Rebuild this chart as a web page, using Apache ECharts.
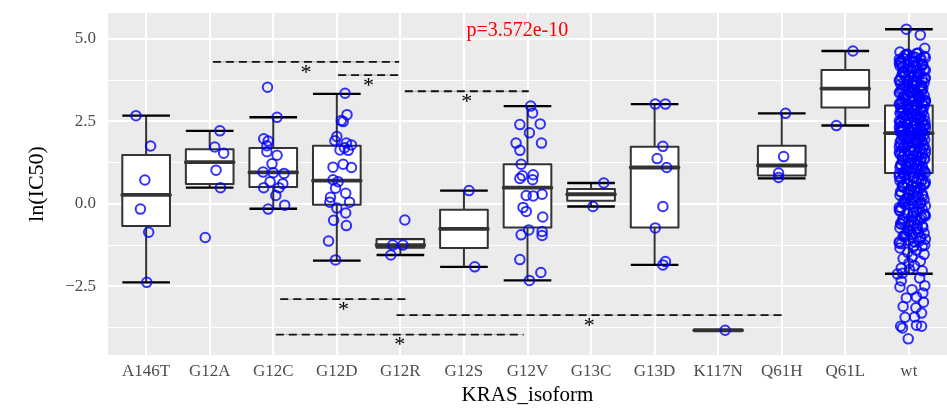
<!DOCTYPE html>
<html>
<head>
<meta charset="utf-8">
<script src="https://cdn.jsdelivr.net/npm/echarts@6/dist/echarts.min.js"></script>
<style>
  html, body { margin: 0; padding: 0; background: #fff; }
  #chart { width: 947px; height: 411px; }
</style>
</head>
<body>
<div id="chart"></div>
<script>
const categories = ['A146T', 'G12A', 'G12C', 'G12D', 'G12R', 'G12S', 'G12V', 'G13C', 'G13D', 'K117N', 'Q61H', 'Q61L', 'wt']

// whisker low, Q1, median, Q3, whisker high
const boxStats = [
  [-2.38, -0.67, 0.27, 1.48, 2.67],
  [0.49, 0.60, 1.26, 1.65, 2.21],
  [-0.15, 0.51, 0.95, 1.69, 2.62],
  [-1.72, -0.03, 0.70, 1.76, 3.33],
  [-1.55, -1.33, -1.25, -1.07, -1.07],
  [-1.91, -1.34, -0.76, -0.18, 0.40],
  [-2.32, -0.72, 0.49, 1.20, 2.96],
  [-0.08, 0.09, 0.29, 0.45, 0.63],
  [-1.85, -0.72, 1.10, 1.73, 3.02],
  [-3.83, -3.83, -3.83, -3.83, -3.83],
  [0.77, 0.86, 1.16, 1.76, 2.74],
  [2.37, 2.92, 3.49, 4.05, 4.63],
  [-2.12, 0.93, 2.14, 2.98, 5.29]
]

const majorY = [-2.5, 0, 2.5, 5]
const minorY = [-3.75, -1.25, 1.25, 3.75]

// points per isoform: [jitter, ln(IC50)]
const a146tPts = [[-0.16, 2.67], [0.07, 1.75], [-0.02, 0.72], [-0.09, -0.16], [0.04, -0.86], [0.01, -2.38]]
const g12aPts = [[0.16, 2.21], [0.08, 1.72], [0.22, 1.53], [0.10, 1.02], [0.17, 0.49], [-0.07, -1.02]]
const g12cPts = [[-0.09, 3.53], [0.06, 2.62], [-0.15, 1.97], [-0.08, 1.90], [-0.10, 1.76], [-0.10, 1.58],
  [0.06, 1.47], [-0.02, 1.21], [-0.16, 0.96], [0.0, 0.94], [0.17, 0.92], [-0.05, 0.67], [0.15, 0.61],
  [-0.15, 0.49], [0.09, 0.49], [0.04, 0.25], [0.18, -0.04], [-0.08, -0.16]]
const g12dPts = [[0.13, 3.35], [0.16, 2.70], [0.07, 2.52], [0.10, 2.49], [0.0, 2.04], [-0.03, 1.91],
  [0.15, 1.84], [0.23, 1.78], [0.05, 1.63], [0.10, 1.20], [-0.06, 1.11], [0.23, 1.10], [-0.06, 0.73],
  [0.02, 0.67], [-0.02, 0.47], [0.14, 0.32], [-0.11, 0.05], [0.20, 0.05], [0.0, -0.13], [0.14, -0.28],
  [-0.05, -0.50], [0.15, -0.66], [-0.13, -1.13], [-0.02, -1.70], [0.18, 1.62], [0.12, 1.70], [-0.1, 0.2]]
const g12rPts = [[0.07, -0.49], [-0.12, -1.25], [0.04, -1.25], [-0.15, -1.55]]
const g12sPts = [[0.08, 0.40], [0.17, -1.91]]
const g12vPts = [[0.05, 2.96], [0.08, 2.75], [0.2, 2.42], [-0.12, 2.40], [0.03, 2.15], [-0.18, 1.84],
  [0.22, 1.84], [-0.12, 1.62], [-0.10, 1.20], [-0.08, 0.85], [-0.12, 0.77], [0.09, 0.88], [0.08, 0.73],
  [-0.02, 0.25], [0.09, 0.24], [0.23, 0.29], [-0.07, -0.11], [-0.02, -0.23], [0.24, -0.40], [0.02, -0.79],
  [-0.10, -0.94], [0.23, -0.84], [0.23, -0.96], [-0.12, -1.69], [0.21, -2.08], [0.03, -2.32]]
const g13cPts = [[0.20, 0.63], [0.03, -0.08]]
const g13dPts = [[0.01, 3.02], [0.17, 3.02], [0.13, 1.74], [0.04, 1.37], [0.19, 1.10], [0.13, -0.08],
  [0.01, -0.73], [0.17, -1.75], [0.13, -1.85]]
const k117nPts = [[0.11, -3.83]]
const q61hPts = [[0.06, 2.74], [0.03, 1.43], [-0.05, 0.93], [-0.05, 0.80]]
const q61lPts = [[0.12, 4.63], [-0.14, 2.37]]

// wt: dense cloud values (read as a band), jitter cycles, plus sparse tail
const wtDense = [
  4.6, 4.55, 4.53, 4.47, 4.46, 4.41, 4.36, 4.35, 4.29, 4.26, 4.2, 4.18, 4.14, 4.09, 4.07, 4.01,
  3.98, 3.95, 3.89, 3.86, 3.84, 3.78, 3.75, 3.71, 3.68, 3.66, 3.61, 3.57, 3.55, 3.52, 3.47, 3.44,
  3.42, 3.38, 3.35, 3.31, 3.29, 3.24, 3.22, 3.19, 3.15, 3.13, 3.09, 3.06, 3.04, 3.0,
  2.97, 2.96, 2.92, 2.9, 2.86, 2.85, 2.82, 2.78, 2.77, 2.74, 2.71, 2.69, 2.66, 2.65, 2.61, 2.58,
  2.57, 2.53, 2.5, 2.48, 2.45, 2.44, 2.4, 2.37, 2.35, 2.33, 2.3, 2.26, 2.25, 2.22, 2.19, 2.18,
  2.14, 2.12, 2.09, 2.06, 2.04, 2.01, 1.97, 1.95, 1.93, 1.89, 1.86, 1.84, 1.8, 1.76, 1.73, 1.71,
  1.67, 1.62, 1.6, 1.58, 1.53, 1.5, 1.47, 1.43, 1.38, 1.36, 1.33, 1.29, 1.24, 1.21, 1.19, 1.14,
  1.1, 1.07, 1.04, 0.99, 0.96, 0.93,
  0.89, 0.86, 0.81, 0.76, 0.74, 0.7, 0.65, 0.62, 0.59, 0.54, 0.5, 0.47, 0.41, 0.38, 0.35, 0.3,
  0.26, 0.23, 0.17, 0.13, 0.1, 0.05, 0.01, -0.03, -0.09, -0.12, -0.16, -0.22, -0.25, -0.3, -0.35,
  -0.39, -0.44, -0.48, -0.53, -0.58, -0.62, -0.67, -0.73, -0.77, -0.82, -0.89, -0.93, -0.98,
  -1.04, -1.11, -1.16, -1.21, -1.28, -1.34,
  -1.41, -1.47, -1.53, -1.6, -1.66, -1.74, -1.8, -1.88, -1.95, -2.03
]
const wtJitter = [-0.14, 0.12, -0.02, 0.24, 0.05, -0.09, 0.18, 0.0, 0.09, -0.12, 0.21]
const wtDense2 = [
  4.57, 4.5, 4.43, 4.38, 4.31, 4.24, 4.16, 4.11, 4.03, 3.93, 3.88, 3.81, 3.73, 3.64, 3.59, 3.49,
  3.4, 3.33, 3.26, 3.17, 3.11, 3.02, 2.94, 2.88, 2.8, 2.72, 2.63, 2.55, 2.46, 2.39, 2.31, 2.24,
  2.16, 2.07, 1.99, 1.91, 1.82, 1.75, 1.65, 1.56, 1.45, 1.4, 1.31, 1.26, 1.16, 1.08, 1.01, 0.94,
  0.83, 0.79, 0.68, 0.56, 0.44, 0.33, 0.2, 0.07, -0.06, -0.19, -0.28, -0.41, -0.55, -0.64,
  -0.75, -0.86, -0.95, -1.07, -1.19, -1.31
]
const wtJitter2 = [0.15, -0.06, 0.26, -0.15, 0.07, 0.2, -0.1, 0.03, 0.13]
const wtDense3 = [
  4.44, 4.33, 4.21, 4.12, 3.99, 3.91, 3.79, 3.69, 3.62, 3.5, 3.37, 3.28, 3.18, 3.07, 2.99, 2.91,
  2.83, 2.75, 2.67, 2.6, 2.52, 2.42, 2.34, 2.28, 2.2, 2.1, 2.02, 1.94, 1.87, 1.78, 1.69, 1.61,
  1.52, 1.44, 1.35, 1.27, 1.17, 1.05, 0.97, 0.87, 0.72, 0.6, 0.49, 0.37, 0.24, 0.12, -0.01,
  -0.14, -0.32, -0.46, -0.6, -0.71, -0.84, -1.0, -1.13, -1.25
]
const wtJitter3 = [0.1, -0.13, 0.22, 0.02, -0.07, 0.16, 0.25]
const wtDense4 = [
  4.52, 4.4, 4.27, 4.17, 4.05, 3.96, 3.83, 3.72, 3.58, 3.46, 3.36, 3.25, 3.14, 3.05, 2.93, 2.84,
  2.7, 2.62, 2.51, 2.41, 2.29, 2.21, 2.13, 2.03, 1.96, 1.85, 1.72, 1.63, 1.54, 1.42, 1.3, 1.22,
  1.12, 1.02, 0.91, 0.8, 0.66, 0.53, 0.4, 0.28, 0.15, 0.03, -0.11, -0.24, -0.37, -0.5, -0.66,
  -0.8, -0.91, -1.02, -1.15, -1.27
]
const wtJitter4 = [-0.04, 0.19, -0.15, 0.08, 0.26, -0.1, 0.13, -0.01]
const wtSparse = [[-0.04, 5.29], [0.18, 5.11], [0.25, 4.71],
  [-0.18, -2.13], [-0.10, -2.10], [0.01, -1.99], [0.25, -2.48], [-0.14, -2.52], [0.22, -2.70],
  [-0.04, -2.85], [0.12, -2.82], [0.23, -2.98], [-0.09, -3.11], [0.11, -3.15], [0.20, -3.31],
  [-0.06, -3.44], [0.09, -3.43], [-0.10, -3.76], [0.20, -3.71], [0.12, -3.68], [-0.01, -4.09],
  [-0.13, -3.71], [0.17, -2.25], [-0.12, -2.33], [0.05, -2.6]]

// significance bars: [from, to, level]
const sigBars = [
  [1.05, 3.98, 4.30],
  [3.02, 3.98, 3.90],
  [4.07, 6.02, 3.41],
  [2.11, 4.10, -2.89],
  [3.94, 10.0, -3.37],
  [2.04, 5.94, -3.96]
]
const pLabel = ['p=3.572e-10', 5.84, 5.24]

const serif = '"Liberation Serif", "DejaVu Serif", serif'
const yMin = -4.58
const yMax = 5.78
const xMin = -0.6
const xMax = 12.6

let groupPts = [a146tPts, g12aPts, g12cPts, g12dPts, g12rPts, g12sPts, g12vPts,
  g13cPts, g13dPts, k117nPts, q61hPts, q61lPts, wtSparse]
let points = []
groupPts.forEach((pts, i) => {
  pts.forEach(([j, v]) => points.push([i + j, v]))
})
wtDense.forEach((v, k) => points.push([12 + wtJitter[k % wtJitter.length], v]))
wtDense2.forEach((v, k) => points.push([12 + wtJitter2[k % wtJitter2.length], v]))
wtDense3.forEach((v, k) => points.push([12 + wtJitter3[k % wtJitter3.length], v]))
wtDense4.forEach((v, k) => points.push([12 + wtJitter4[k % wtJitter4.length], v]))

let myChart = echarts.init(document.getElementById('chart'))

// gray panel and white grid lines (pixel-snapped rects), placed through the axes
function renderPanel(params, api) {
  let tl = api.coord([xMin, yMax])
  let br = api.coord([xMax, yMin])
  let parts = [{
    type: 'rect',
    shape: { x: tl[0], y: tl[1], width: br[0] - tl[0], height: br[1] - tl[1] },
    style: { fill: '#EBEBEB' }
  }]
  let hline = (v, w) => {
    let y = Math.round(api.coord([xMin, v])[1] - w / 2)
    parts.push({ type: 'rect', shape: { x: tl[0], y: y, width: br[0] - tl[0], height: w }, style: { fill: '#FFFFFF' } })
  }
  minorY.forEach(v => hline(v, 1))
  majorY.forEach(v => hline(v, 2))
  categories.forEach((c, i) => {
    let x = Math.round(api.coord([i, yMin])[0] - 1)
    parts.push({ type: 'rect', shape: { x: x, y: tl[1], width: 2, height: br[1] - tl[1] }, style: { fill: '#FFFFFF' } })
  })
  return { type: 'group', children: parts }
}

function renderBox(params, api) {
  let i = api.value(0)
  let lo = api.coord([i, api.value(1)])
  let q1 = api.coord([i, api.value(2)])
  let med = api.coord([i, api.value(3)])
  let q3 = api.coord([i, api.value(4)])
  let hi = api.coord([i, api.value(5)])
  let bw = api.size([0.75, 0])[0]
  let cx = lo[0]
  let x0 = cx - bw / 2
  let x1 = cx + bw / 2
  let dark = '#333333'
  return {
    type: 'group',
    children: [
      { type: 'line', shape: { x1: cx, y1: q3[1], x2: cx, y2: hi[1] }, style: { stroke: dark, lineWidth: 2 } },
      { type: 'line', shape: { x1: cx, y1: lo[1], x2: cx, y2: q1[1] }, style: { stroke: dark, lineWidth: 2 } },
      { type: 'line', shape: { x1: x0, y1: hi[1], x2: x1, y2: hi[1] }, style: { stroke: '#000', lineWidth: 2.4 } },
      { type: 'line', shape: { x1: x0, y1: lo[1], x2: x1, y2: lo[1] }, style: { stroke: '#000', lineWidth: 2.4 } },
      { type: 'rect', shape: { x: x0, y: q3[1], width: bw, height: q1[1] - q3[1] },
        style: { fill: '#fff', stroke: dark, lineWidth: 2, lineJoin: 'round' } },
      { type: 'line', shape: { x1: x0, y1: med[1], x2: x1, y2: med[1] },
        style: { stroke: dark, lineWidth: 3.8, lineCap: 'round' } }
    ]
  }
}

function renderSig(params, api) {
  let a = api.coord([api.value(0), api.value(2)])
  let b = api.coord([api.value(1), api.value(2)])
  let mid = (a[0] + b[0]) / 2
  return {
    type: 'group',
    children: [
      { type: 'line', shape: { x1: a[0], y1: a[1], x2: b[0], y2: b[1] }, style: { stroke: '#888', lineWidth: 0.6 } },
      { type: 'line', shape: { x1: a[0], y1: a[1], x2: b[0], y2: b[1] },
        style: { stroke: '#111', lineWidth: 1.8, lineDash: [8, 5] } },
      { type: 'text', x: mid, y: a[1] + 11,
        style: { text: '*', font: '22px ' + serif, fill: '#000', align: 'center', verticalAlign: 'middle' } }
    ]
  }
}

let tickStyle = { show: true, length: 5, lineStyle: { color: '#333', width: 1.5 } }

myChart.setOption({
  animation: false,
  grid: { left: 108, right: 0, top: 13, bottom: 56, show: false },
  xAxis: {
    type: 'value',
    min: xMin,
    max: xMax,
    splitLine: { show: false },
    axisLine: { show: false },
    axisTick: Object.assign({ customValues: categories.map((c, i) => i) }, tickStyle),
    axisLabel: {
      customValues: categories.map((c, i) => i),
      formatter: v => categories[Math.round(v)],
      color: '#4D4D4D', fontSize: 17, fontFamily: serif, margin: 8
    },
    name: 'KRAS_isoform',
    nameLocation: 'middle',
    nameGap: 30,
    nameTextStyle: { color: '#000', fontSize: 21, fontFamily: serif }
  },
  yAxis: {
    type: 'value',
    min: yMin,
    max: yMax,
    splitLine: { show: false },
    axisLine: { show: false },
    axisTick: Object.assign({ customValues: majorY }, tickStyle),
    axisLabel: {
      customValues: majorY,
      formatter: v => (v < 0 ? '\u2212' : '') + Math.abs(v).toFixed(1),
      color: '#4D4D4D', fontSize: 17, fontFamily: serif, margin: 12
    },
    name: 'ln(IC50)',
    nameLocation: 'middle',
    nameRotate: 90,
    nameGap: 60,
    nameTextStyle: { color: '#000', fontSize: 22, fontFamily: serif }
  },
  series: [
    {
      type: 'custom',
      name: 'panel',
      renderItem: renderPanel,
      data: [[0, 0]],
      encode: { x: 0, y: 1 },
      silent: true,
      z: 1
    },
    {
      type: 'custom',
      name: 'boxes',
      renderItem: renderBox,
      data: boxStats.map((s, i) => [i].concat(s)),
      encode: { x: 0, y: [1, 2, 3, 4, 5] },
      z: 2
    },
    {
      type: 'scatter',
      name: 'points',
      data: points,
      symbol: 'circle',
      symbolSize: 9.5,
      itemStyle: { color: 'rgba(0,0,0,0)', borderColor: '#0000FF', borderWidth: 2 },
      z: 3
    },
    {
      type: 'custom',
      name: 'signif',
      renderItem: renderSig,
      data: sigBars,
      encode: { x: [0, 1], y: 2 },
      z: 4
    },
    {
      type: 'custom',
      name: 'pvalue',
      renderItem: (params, api) => {
        let p = api.coord([api.value(1), api.value(2)])
        return {
          type: 'text', x: p[0], y: p[1],
          style: { text: pLabel[0], font: '20px ' + serif, fill: '#FF0000', align: 'center', verticalAlign: 'middle' }
        }
      },
      data: [pLabel],
      encode: { x: 1, y: 2 },
      z: 4
    }
  ]
})
</script>
</body>
</html>
